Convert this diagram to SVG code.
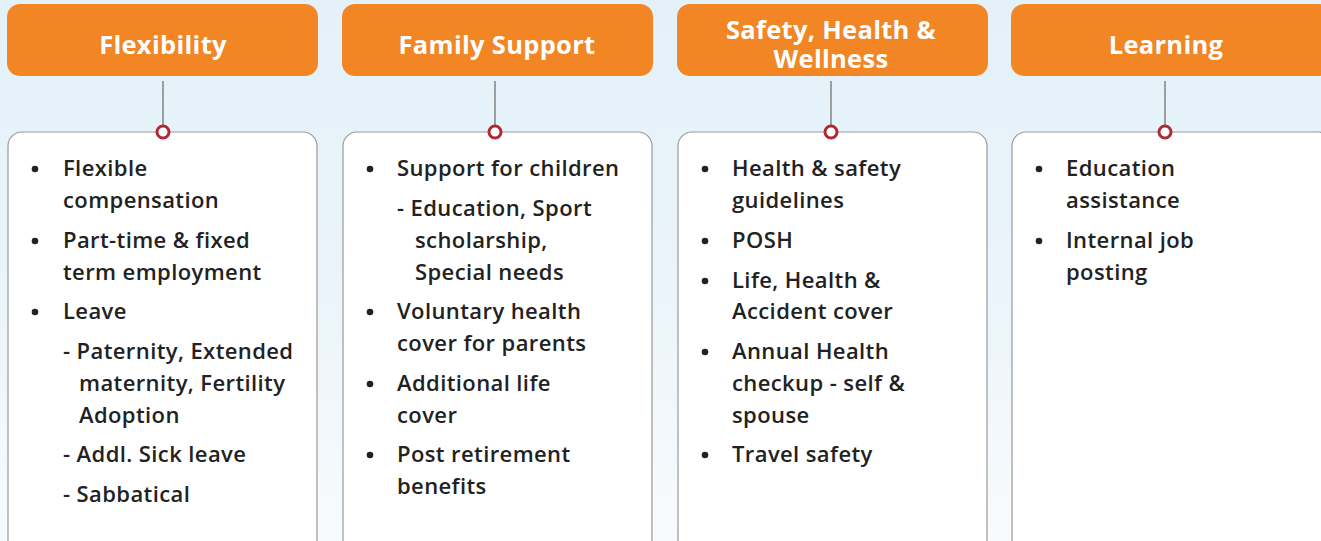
<svg xmlns="http://www.w3.org/2000/svg" width="1321" height="541" viewBox="0 0 1321 541">
<defs>
<linearGradient id="bg" x1="0" y1="0" x2="0" y2="1">
<stop offset="0" stop-color="#e4f1f9"/>
<stop offset="0.5" stop-color="#eaf4fa"/>
<stop offset="1" stop-color="#f8fbfd"/>
</linearGradient>
<style>
.hdr{fill:#f28524;}
.ht{font-family:"Open Sans","Liberation Sans",sans-serif;font-weight:bold;font-size:25.5px;letter-spacing:0.3px;fill:#fff;text-anchor:middle;}
.box{fill:#fff;stroke:#9a9a9a;stroke-width:1.2;}
.t{font-family:"Open Sans","Liberation Sans",sans-serif;font-weight:600;font-size:22px;letter-spacing:0.4px;fill:#222;}
.b{fill:#222;}
.ln{stroke:#8a8a8a;stroke-width:1.6;}
.dot{fill:#fff;stroke:#b02a30;stroke-width:3;}
</style>
</defs>
<rect width="1321" height="541" fill="url(#bg)"/>
<g id="connectors">
<line class="ln" x1="163" y1="81" x2="163" y2="127"/>
<line class="ln" x1="495" y1="81" x2="495" y2="127"/>
<line class="ln" x1="831" y1="81" x2="831" y2="127"/>
<line class="ln" x1="1165" y1="81" x2="1165" y2="127"/>
</g>
<g id="flexibility">
<rect class="hdr" x="7" y="4" width="311" height="72" rx="13"/>
<text class="ht" x="163" y="54">Flexibility</text>
<rect class="box" x="8" y="132" width="309" height="430" rx="14"/>
<circle class="dot" cx="163" cy="132" r="6"/>
<circle class="b" cx="35" cy="169" r="3.3"/>
<circle class="b" cx="35" cy="241" r="3.3"/>
<circle class="b" cx="35" cy="312" r="3.3"/>
<text class="t" x="63" y="176">Flexible</text>
<text class="t" x="63" y="208">compensation</text>
<text class="t" x="63" y="248">Part-time &amp; fixed</text>
<text class="t" x="63" y="280">term employment</text>
<text class="t" x="63" y="319">Leave</text>
<text class="t" x="63" y="359">- Paternity, Extended</text>
<text class="t" x="79" y="391">maternity, Fertility</text>
<text class="t" x="79" y="423">Adoption</text>
<text class="t" x="63" y="462">- Addl. Sick leave</text>
<text class="t" x="63" y="502">- Sabbatical</text>
</g>
<g id="family-support">
<rect class="hdr" x="342" y="4" width="311" height="72" rx="13"/>
<text class="ht" x="497" y="54">Family Support</text>
<rect class="box" x="343" y="132" width="309" height="430" rx="14"/>
<circle class="dot" cx="495" cy="132" r="6"/>
<circle class="b" cx="370" cy="169" r="3.3"/>
<circle class="b" cx="370" cy="312" r="3.3"/>
<circle class="b" cx="370" cy="384" r="3.3"/>
<circle class="b" cx="370" cy="455" r="3.3"/>
<text class="t" x="397" y="176">Support for children</text>
<text class="t" x="397" y="216">- Education, Sport</text>
<text class="t" x="415" y="248">scholarship,</text>
<text class="t" x="415" y="280">Special needs</text>
<text class="t" x="397" y="319">Voluntary health</text>
<text class="t" x="397" y="351">cover for parents</text>
<text class="t" x="397" y="391">Additional life</text>
<text class="t" x="397" y="423">cover</text>
<text class="t" x="397" y="462">Post retirement</text>
<text class="t" x="397" y="494">benefits</text>
</g>
<g id="safety-health-wellness">
<rect class="hdr" x="677" y="4" width="311" height="72" rx="13"/>
<text class="ht" x="831" y="39">Safety, Health &amp;<tspan x="831" y="68">Wellness</tspan></text>
<rect class="box" x="678" y="132" width="309" height="430" rx="14"/>
<circle class="dot" cx="831" cy="132" r="6"/>
<circle class="b" cx="705" cy="169" r="3.3"/>
<circle class="b" cx="705" cy="241" r="3.3"/>
<circle class="b" cx="705" cy="281" r="3.3"/>
<circle class="b" cx="705" cy="352" r="3.3"/>
<circle class="b" cx="705" cy="455" r="3.3"/>
<text class="t" x="732" y="176">Health &amp; safety</text>
<text class="t" x="732" y="208">guidelines</text>
<text class="t" x="732" y="248">POSH</text>
<text class="t" x="732" y="288">Life, Health &amp;</text>
<text class="t" x="732" y="319">Accident cover</text>
<text class="t" x="732" y="359">Annual Health</text>
<text class="t" x="732" y="391">checkup - self &amp;</text>
<text class="t" x="732" y="423">spouse</text>
<text class="t" x="732" y="462">Travel safety</text>
</g>
<g id="learning">
<rect class="hdr" x="1011" y="4" width="320" height="72" rx="13"/>
<text class="ht" x="1166" y="54">Learning</text>
<rect class="box" x="1012" y="132" width="320" height="430" rx="14"/>
<circle class="dot" cx="1165" cy="132" r="6"/>
<circle class="b" cx="1039" cy="169" r="3.3"/>
<circle class="b" cx="1039" cy="241" r="3.3"/>
<text class="t" x="1066" y="176">Education</text>
<text class="t" x="1066" y="208">assistance</text>
<text class="t" x="1066" y="248">Internal job</text>
<text class="t" x="1066" y="280">posting</text>
</g>
</svg>
